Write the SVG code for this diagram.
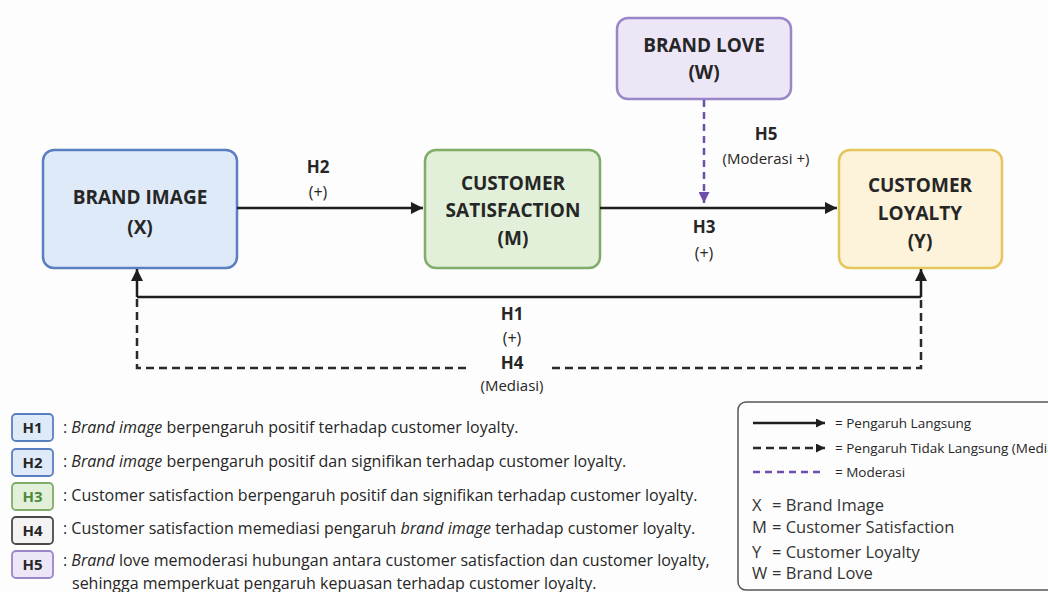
<svg xmlns="http://www.w3.org/2000/svg" width="1048" height="592" viewBox="0 0 1048 592">
<defs>
<marker id="ah" viewBox="0 0 10 10" refX="10" refY="5" markerWidth="13" markerHeight="12" markerUnits="userSpaceOnUse" orient="auto"><path d="M0,0 L10,5 L0,10 z" fill="#1e1e1e"/></marker>
<marker id="ahp" viewBox="0 0 10 10" refX="10" refY="5" markerWidth="12" markerHeight="11" markerUnits="userSpaceOnUse" orient="auto"><path d="M0,0 L10,5 L0,10 z" fill="#6f4fae"/></marker>
<marker id="ahs" viewBox="0 0 10 10" refX="10" refY="5" markerWidth="10" markerHeight="9" markerUnits="userSpaceOnUse" orient="auto"><path d="M0,0 L10,5 L0,10 z" fill="#1e1e1e"/></marker>
</defs>
<style>
text{font-family:"Open Sans",Lato,"Liberation Sans",sans-serif;fill:#262626}
.nt{font-size:19px;font-weight:700;text-anchor:middle}
.hl{font-size:17px;font-weight:700;text-anchor:middle}
.pl{font-size:16px;text-anchor:middle}
.sm{font-size:15px;text-anchor:middle}
.box{stroke-width:2.5}
.ln{stroke:#1e1e1e;stroke-width:2.5;fill:none}
.dl{stroke:#2a2a2a;stroke-width:2.5;fill:none;stroke-dasharray:8 5}
.pd{stroke:#6f4fae;stroke-width:2.5;fill:none;stroke-dasharray:7 5}
.lt{font-size:16px}
.hb{stroke-width:1.8}
.hk{font-size:15px;font-weight:700;text-anchor:middle}
.lg{font-size:13.5px}
.lv{font-size:16.5px;fill:#333}
</style>
<rect width="1048" height="592" fill="#fdfdfd"/>

<g id="brand-image">
<rect class="box" x="43" y="150" width="194" height="118" rx="11" fill="#dfeaf8" stroke="#5a7fc0"/>
<text class="nt" x="140" y="203.5">BRAND IMAGE</text>
<text class="nt" x="140" y="233.5">(X)</text>
</g>
<g id="customer-satisfaction">
<rect class="box" x="425" y="150" width="175" height="118" rx="11" fill="#e2f0d9" stroke="#7fad68"/>
<text class="nt" x="513" y="189.5">CUSTOMER</text>
<text class="nt" x="513" y="216.5">SATISFACTION</text>
<text class="nt" x="513" y="244.5">(M)</text>
</g>
<g id="brand-love">
<rect class="box" x="617" y="18" width="174" height="81" rx="11" fill="#ece6f7" stroke="#9a86c8"/>
<text class="nt" x="704" y="51.5">BRAND LOVE</text>
<text class="nt" x="704" y="78.5">(W)</text>
</g>
<g id="customer-loyalty">
<rect class="box" x="839" y="150" width="163" height="118" rx="11" fill="#fdf3da" stroke="#e6c55c"/>
<text class="nt" x="920" y="191.5">CUSTOMER</text>
<text class="nt" x="920" y="219.5">LOYALTY</text>
<text class="nt" x="920" y="247.5">(Y)</text>
</g>

<g id="connectors">
<path class="ln" d="M237,208 H423" marker-end="url(#ah)"/>
<path class="ln" d="M600,208 H837" marker-end="url(#ah)"/>
<path class="pd" d="M704,100 V203" marker-end="url(#ahp)"/>
<path class="ln" d="M137,297 H921"/>
<path class="ln" d="M137,297 V269" marker-end="url(#ah)"/>
<path class="ln" d="M921,297 V269" marker-end="url(#ah)"/>
<path class="dl" d="M137,299 V368 H470"/>
<path class="dl" d="M552,368 H921 V299"/>
</g>

<g id="labels">
<text class="hl" x="318" y="173">H2</text>
<text class="pl" x="318" y="198">(+)</text>
<text class="hl" x="766" y="140">H5</text>
<text class="sm" x="766" y="164">(Moderasi +)</text>
<text class="hl" x="704" y="233">H3</text>
<text class="pl" x="704" y="259">(+)</text>
<text class="hl" x="512" y="320">H1</text>
<text class="pl" x="512" y="344">(+)</text>
<text class="hl" x="512" y="369">H4</text>
<text class="sm" x="512" y="391">(Mediasi)</text>
</g>

<g id="hypotheses">
<rect class="hb" x="12" y="414" width="41" height="27" rx="4" fill="#dfeaf8" stroke="#5a7fc0"/>
<text class="hk" x="32.5" y="432.5">H1</text>
<text class="lt" x="63" y="433">: <tspan font-style="italic">Brand image</tspan> berpengaruh positif terhadap customer loyalty.</text>
<rect class="hb" x="12" y="449" width="41" height="27" rx="4" fill="#dfeaf8" stroke="#5a7fc0"/>
<text class="hk" x="32.5" y="467.5">H2</text>
<text class="lt" x="63" y="467">: <tspan font-style="italic">Brand image</tspan> berpengaruh positif dan signifikan terhadap customer loyalty.</text>
<rect class="hb" x="12" y="483" width="41" height="27" rx="4" fill="#e2f0d9" stroke="#7fad68"/>
<text class="hk" x="32.5" y="501.5" style="fill:#4f8a3a">H3</text>
<text class="lt" x="63" y="501">: Customer satisfaction berpengaruh positif dan signifikan terhadap customer loyalty.</text>
<rect class="hb" x="12" y="517" width="41" height="27" rx="4" fill="#f3f3f3" stroke="#4a4a4a"/>
<text class="hk" x="32.5" y="535.5">H4</text>
<text class="lt" x="63" y="534">: Customer satisfaction memediasi pengaruh <tspan font-style="italic">brand image</tspan> terhadap customer loyalty.</text>
<rect class="hb" x="12" y="551" width="41" height="27" rx="4" fill="#ece6f7" stroke="#9a86c8"/>
<text class="hk" x="32.5" y="569.5">H5</text>
<text class="lt" x="63" y="566">: <tspan font-style="italic">Brand</tspan> love memoderasi hubungan antara customer satisfaction dan customer loyalty,</text>
<text class="lt" x="72" y="589">sehingga memperkuat pengaruh kepuasan terhadap customer loyalty.</text>
</g>

<g id="legend">
<rect x="738" y="402" width="320" height="188" rx="8" fill="#fdfdfd" stroke="#555" stroke-width="1.5"/>
<path class="ln" d="M753,423 H825" stroke-width="2.2" marker-end="url(#ahs)"/>
<text class="lg" x="835" y="427.5">= Pengaruh Langsung</text>
<path class="dl" d="M753,448 H825" stroke-width="2.2" stroke-dasharray="7 5" marker-end="url(#ahs)"/>
<text class="lg" x="835" y="452.5">= Pengaruh Tidak Langsung (Mediasi)</text>
<path class="pd" d="M753,472 H820" stroke-width="2" stroke="#8a78c4"/>
<text class="lg" x="835" y="476.5">= Moderasi</text>
<text class="lv" x="752" y="511">X</text><text class="lv" x="772" y="511">= Brand Image</text>
<text class="lv" x="752" y="533">M</text><text class="lv" x="772" y="533">= Customer Satisfaction</text>
<text class="lv" x="752" y="558">Y</text><text class="lv" x="772" y="558">= Customer Loyalty</text>
<text class="lv" x="752" y="579">W</text><text class="lv" x="772" y="579">= Brand Love</text>
</g>
</svg>
